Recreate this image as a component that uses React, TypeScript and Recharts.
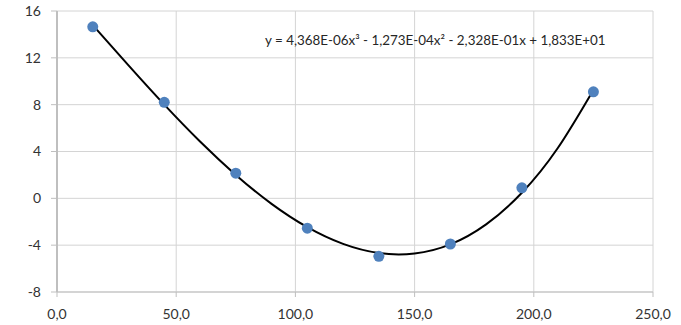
import { ComposedChart, Scatter, Line, XAxis, YAxis, CartesianGrid } from "recharts";

// measured points
const xValues = [15, 45, 75, 105, 135, 165, 195, 225];
const yValues = [14.65, 8.2, 2.15, -2.55, -4.95, -3.9, 0.9, 9.1];

// trendline
const trendX = [15, 30, 45, 60, 75, 90, 105, 120, 135, 150, 165, 180, 195, 210, 225];
const trendY = [14.8, 11.35, 8.0, 4.85, 2.0, -0.47, -2.46, -3.89, -4.67, -4.71, -3.93, -2.22, 0.48, 4.28, 9.26];

const xTicks = [0, 50, 100, 150, 200, 250];
const yTicks = [-8, -4, 0, 4, 8, 12, 16];
const equation = "y = 4,368E-06x³ - 1,273E-04x² - 2,328E-01x + 1,833E+01";

const points = xValues.map((x, i) => ({ x, y: yValues[i] }));
const trend = trendX.map((x, i) => ({ x, y: trendY[i] }));

const fmtX = (v: number) => v.toFixed(1).replace(".", ",");

const Dot = (props: any) => <circle cx={props.cx} cy={props.cy} r={5.5} fill="#4f81bd" />;

export default function App() {
  return (
    <div style={{ position: "absolute", left: 0, top: 0, width: 681, height: 325, background: "#fff", fontFamily: "Lato, sans-serif" }}>
      <ComposedChart width={681} height={325} margin={{ top: 11, right: 28, bottom: 3, left: 7 }}>
        <CartesianGrid stroke="#d4d4d4" strokeWidth={1} />
        <XAxis
          type="number"
          dataKey="x"
          domain={[0, 250]}
          ticks={xTicks}
          tickFormatter={fmtX}
          interval={0}
          height={30}
          axisLine={{ stroke: "#bfbfbf" }}
          tickLine={{ stroke: "#bfbfbf" }}
          tickSize={5}
          tickMargin={12}
          tick={{ fill: "#333", fontSize: 14 }}
          allowDataOverflow
        />
        <YAxis
          type="number"
          dataKey="y"
          domain={[-8, 16]}
          ticks={yTicks}
          interval={0}
          width={50}
          axisLine={{ stroke: "#bfbfbf", strokeWidth: 2 }}
          tickLine={{ stroke: "#bfbfbf" }}
          tickSize={6}
          tickMargin={10}
          tick={{ fill: "#333", fontSize: 14 }}
          allowDataOverflow
        />
        <Scatter data={points} fill="#4f81bd" shape={Dot} isAnimationActive={false} legendType="none" />
        <Line
          data={trend}
          dataKey="y"
          type="natural"
          stroke="#000"
          strokeWidth={2}
          dot={false}
          activeDot={false}
          isAnimationActive={false}
        />
      </ComposedChart>
      <div style={{ position: "absolute", left: 265, top: 32, fontSize: 13.4, color: "#262626", whiteSpace: "nowrap" }}>
        {equation}
      </div>
    </div>
  );
}
